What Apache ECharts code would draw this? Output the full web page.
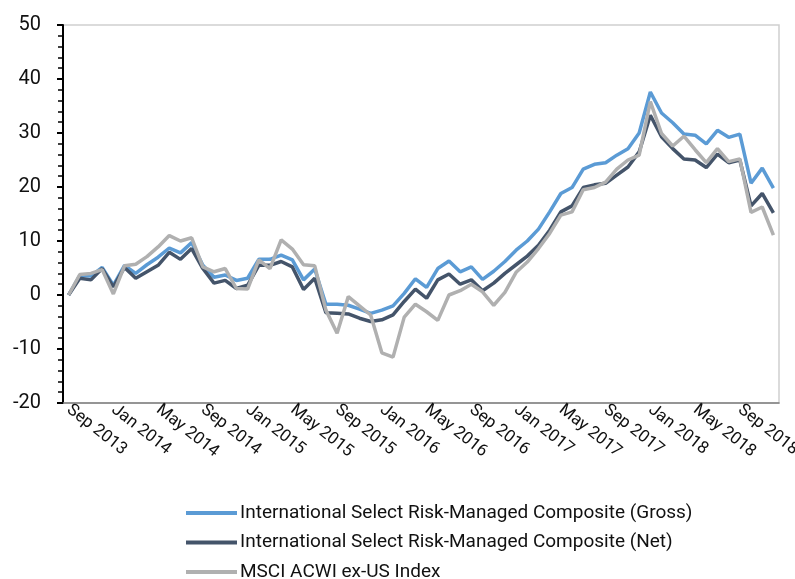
<!DOCTYPE html>
<html>
<head>
<meta charset="utf-8">
<script src="https://cdn.jsdelivr.net/npm/echarts@6/dist/echarts.min.js"></script>
<style>
  html, body { margin: 0; padding: 0; background: #fff; }
  #chart { width: 795px; height: 579px; }
</style>
</head>
<body>
<div id="chart"></div>
<script>
const monthNames = ["Jan", "Feb", "Mar", "Apr", "May", "Jun", "Jul", "Aug", "Sep", "Oct", "Nov", "Dec"];
// monthly points, Sep 2013 .. Dec 2018
const months = [];
for (let i = 0; i < 64; i++) {
  const m = (8 + i) % 12;
  const y = 2013 + Math.floor((8 + i) / 12);
  months.push(monthNames[m] + " " + y);
}

const seriesNames = [
  "International Select Risk-Managed Composite (Gross)",
  "International Select Risk-Managed Composite (Net)",
  "MSCI ACWI ex-US Index"
];

const gross = [0, 3.6, 3.5, 5.1, 1.8, 5.5, 4.0, 5.6, 7.0, 8.7, 7.8, 9.7,
  5.5, 3.3, 3.7, 2.7, 3.1, 6.6, 6.6, 7.4, 6.5, 2.8, 4.8, -1.7,
  -1.7, -1.9, -2.6, -3.4, -2.8, -2.0, 0.3, 3.0, 1.4, 4.9, 6.3, 4.3,
  5.2, 2.9, 4.4, 6.2, 8.3, 10.0, 12.2, 15.4, 18.8, 19.9, 23.3, 24.2,
  24.5, 25.9, 27.1, 30.0, 37.6, 33.7, 31.9, 29.8, 29.6, 28.0, 30.5, 29.2,
  29.8, 20.7, 23.5, 19.8];

const net = [0, 3.1, 2.8, 4.9, 1.5, 5.1, 3.1, 4.3, 5.5, 7.9, 6.6, 8.6,
  4.9, 2.2, 2.7, 1.2, 1.8, 5.5, 5.5, 6.2, 5.2, 1.0, 3.1, -3.3,
  -3.4, -3.5, -4.3, -4.9, -4.6, -3.7, -1.2, 1.1, -0.6, 2.8, 3.9, 2.0,
  2.8, 0.8, 2.2, 4.0, 5.6, 7.2, 9.2, 12.0, 15.4, 16.5, 19.9, 20.4,
  20.7, 22.2, 23.7, 26.5, 33.3, 29.3, 27.1, 25.2, 25.0, 23.6, 26.1, 24.5,
  25.0, 16.5, 18.8, 15.2];

const msci = [0, 3.8, 4.0, 4.7, 0.2, 5.4, 5.7, 7.1, 8.9, 11.0, 10.0, 10.6,
  5.2, 4.3, 4.9, 1.2, 1.1, 6.5, 4.9, 10.2, 8.5, 5.6, 5.4, -2.8,
  -7.1, -0.3, -2.0, -3.7, -10.7, -11.5, -4.1, -1.7, -3.1, -4.7, 0.0, 0.8,
  2.0, 0.6, -1.9, 0.5, 4.2, 6.1, 8.6, 11.4, 14.8, 15.4, 19.5, 19.9,
  20.9, 23.3, 25.0, 25.9, 35.8, 29.9, 27.6, 29.4, 26.9, 24.5, 27.1, 24.7,
  25.2, 15.3, 16.3, 11.1];

const colors = ["#5b9bd5", "#44546a", "#b0b0b0"];

const chart = echarts.init(document.getElementById("chart"));

function line(name, data, color) {
  return {
    name: name,
    type: "line",
    data: data,
    symbol: "none",
    smooth: false,
    lineStyle: { color: color, width: 3.5 },
    itemStyle: { color: color }
  };
}

chart.setOption({
  animation: false,
  textStyle: { fontFamily: "Roboto" },
  grid: {
    left: 63, right: 16, top: 25, bottom: 176,
    outerBoundsMode: "none",
    containLabel: false,
    show: true, borderColor: "#d0d0d0", borderWidth: 1.5
  },
  legend: {
    orient: "vertical",
    left: 181,
    top: 497,
    height: 100,
    itemWidth: 51,
    itemHeight: 4,
    itemGap: 7.5,
    icon: "rect",
    textStyle: { fontSize: 19, color: "#111", lineHeight: 22, padding: [0, 0, 0, -2] },
    data: seriesNames
  },
  xAxis: {
    type: "category",
    data: months,
    boundaryGap: true,
    axisLine: { onZero: false, lineStyle: { color: "#7f7f7f", width: 1.5 } },
    axisTick: { interval: 1, length: 5, lineStyle: { color: "#7f7f7f", width: 1.5 } },
    axisLabel: { interval: 3, rotate: -38, fontSize: 17, color: "#111", margin: 5 },
    splitLine: { show: false }
  },
  yAxis: {
    type: "value",
    min: -20, max: 50, interval: 10,
    axisLine: { show: true, lineStyle: { color: "#000", width: 2 } },
    axisTick: { show: true, length: 6, lineStyle: { color: "#000", width: 2 } },
    minorTick: { show: true, splitNumber: 5, length: 5, lineStyle: { color: "#000", width: 1.5 } },
    axisLabel: { fontSize: 20, color: "#111", margin: 22 },
    splitLine: { show: false }
  },
  series: [
    line(seriesNames[0], gross, colors[0]),
    line(seriesNames[1], net, colors[1]),
    line(seriesNames[2], msci, colors[2])
  ]
});
</script>
</body>
</html>
